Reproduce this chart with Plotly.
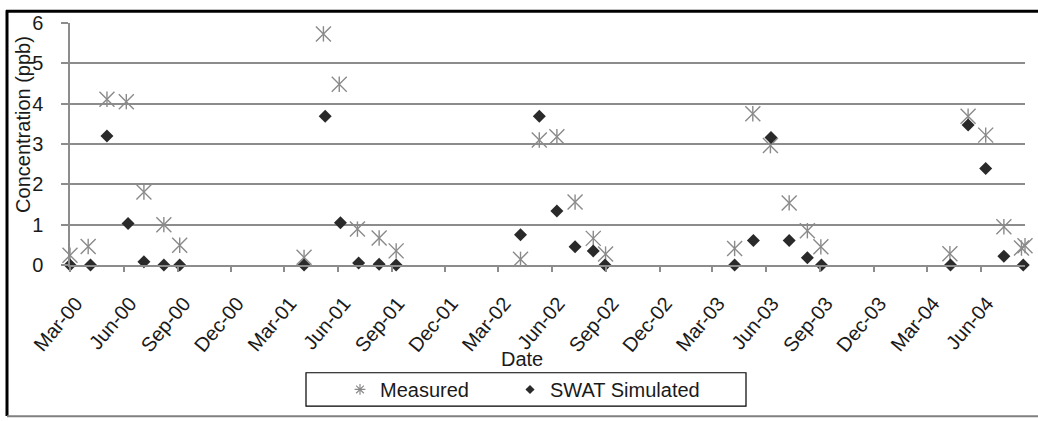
import plotly.graph_objects as go

# ---- data ----
measured_dates = [
    "2000-03-01", "2000-04-01", "2000-05-03", "2000-06-05", "2000-07-05", "2000-08-08", "2000-09-04",
    "2001-04-04", "2001-05-07", "2001-06-03", "2001-07-04", "2001-08-10", "2001-09-08",
    "2002-04-08", "2002-05-10", "2002-06-09", "2002-07-10", "2002-08-10", "2002-08-31",
    "2003-04-08", "2003-05-09", "2003-06-08", "2003-07-10", "2003-08-10", "2003-09-02",
    "2004-04-09", "2004-05-10", "2004-06-09", "2004-07-10", "2004-08-09", "2004-08-15",
]
measured_values = [
    0.24, 0.46, 4.11, 4.05, 1.81, 1.00, 0.49,
    0.19, 5.73, 4.48, 0.89, 0.67, 0.35,
    0.14, 3.10, 3.18, 1.56, 0.66, 0.27,
    0.41, 3.75, 2.96, 1.54, 0.85, 0.45,
    0.28, 3.69, 3.22, 0.95, 0.42, 0.48,
]
swat_dates = [
    "2000-03-01", "2000-04-05", "2000-05-03", "2000-06-08", "2000-07-05", "2000-08-08", "2000-09-04",
    "2001-04-04", "2001-05-10", "2001-06-05", "2001-07-06", "2001-08-10", "2001-09-08",
    "2002-04-08", "2002-05-10", "2002-06-09", "2002-07-10", "2002-08-10", "2002-08-30",
    "2003-04-08", "2003-05-10", "2003-06-09", "2003-07-10", "2003-08-10", "2003-09-03",
    "2004-04-10", "2004-05-10", "2004-06-09", "2004-07-10", "2004-08-12",
]
swat_values = [
    0.00, 0.00, 3.20, 1.03, 0.08, 0.00, 0.00,
    0.00, 3.69, 1.05, 0.05, 0.02, 0.00,
    0.75, 3.69, 1.34, 0.45, 0.35, 0.00,
    0.00, 0.61, 3.16, 0.61, 0.18, 0.00,
    0.00, 3.47, 2.39, 0.22, 0.00,
]
x_range = ["2000-03-01", "2004-08-15"]
y_ticks = [0, 1, 2, 3, 4, 5, 6]

# ---- layout geometry (pixels) ----
W, H = 1038, 421
L, R, T, B = 70, 13, 18, 156
PW, PH = W - L - R, H - T - B


def px(xp):
    return (xp - L) / PW


def py(yp):
    return (H - B - yp) / PH


FONT = "Liberation Sans, Arial, sans-serif"
TXT = "#1a1a1a"
GRID = "#8c8c8c"
MEAS = "#8a8a8a"
SIM = "#2a2a2a"

fig = go.Figure()

# Measured: X plus vertical bar (Excel star marker)
fig.add_trace(go.Scatter(
    x=measured_dates, y=measured_values, mode="markers", name="Measured",
    marker=dict(symbol="x-thin-open", size=15, color=MEAS, line=dict(color=MEAS, width=1.4)),
    showlegend=False, cliponaxis=False,
))
fig.add_trace(go.Scatter(
    x=measured_dates, y=measured_values, mode="markers", name="Measured",
    marker=dict(symbol="line-ns-open", size=11, color=MEAS, line=dict(color=MEAS, width=1.4)),
    showlegend=False, cliponaxis=False,
))
fig.add_trace(go.Scatter(
    x=swat_dates, y=swat_values, mode="markers", name="SWAT Simulated",
    marker=dict(symbol="diamond", size=10, color=SIM, line=dict(width=0)),
    showlegend=False, cliponaxis=False,
))
# legend entries
fig.add_trace(go.Scatter(
    x=[None], y=[None], mode="markers", name="Measured", legendwidth=125,
    marker=dict(symbol="asterisk-open", size=9, color=MEAS, line=dict(color=MEAS, width=1.2)),
))
fig.add_trace(go.Scatter(
    x=[None], y=[None], mode="markers", name="SWAT Simulated", legendwidth=175,
    marker=dict(symbol="diamond", size=7, color=SIM),
))

fig.update_layout(
    width=W, height=H,
    margin=dict(l=L, r=R, t=T, b=B, pad=0),
    paper_bgcolor="white", plot_bgcolor="white",
    font=dict(family=FONT, size=20, color=TXT),
    showlegend=True,
    legend=dict(
        orientation="h", x=px(340), xanchor="left", y=py(392), yanchor="middle",
        bgcolor="rgba(0,0,0,0)", borderwidth=0,
        font=dict(family=FONT, size=20, color=TXT),
    ),
    xaxis=dict(
        type="date", range=x_range, tick0="2000-03-01", dtick="M3", tickformat="%b-%y",
        tickangle=-50, ticks="outside", ticklen=5, tickwidth=1.5, tickcolor=GRID,
        showgrid=False, showline=True, linecolor=GRID, linewidth=1.5,
        zeroline=False, ticklabelstandoff=12, ticklabelshift=6,
        tickfont=dict(family=FONT, size=20, color=TXT),
    ),
    yaxis=dict(
        range=[0, 6], tickvals=y_ticks, ticks="outside", ticklen=7, tickwidth=1.5, tickcolor=GRID,
        showgrid=True, gridcolor=GRID, gridwidth=1.5, showline=True, linecolor=GRID, linewidth=1.5,
        zeroline=False, ticklabelstandoff=14,
        tickfont=dict(family=FONT, size=20, color=TXT),
    ),
    annotations=[
        dict(text="Date", xref="paper", yref="paper", x=px(522), y=py(361),
             xanchor="center", yanchor="middle", showarrow=False,
             font=dict(family=FONT, size=20, color=TXT)),
        dict(text="Concentration (ppb)", xref="paper", yref="paper", x=px(23), y=py(122),
             xanchor="center", yanchor="middle", textangle=-90, showarrow=False,
             font=dict(family=FONT, size=20, color=TXT)),
    ],
    shapes=[
        # legend box
        dict(type="rect", xref="paper", yref="paper", x0=px(306), x1=px(746), y0=py(375), y1=py(409),
             line=dict(color="#000000", width=1.2), fillcolor="rgba(0,0,0,0)", layer="below"),
        # outer chart border
        dict(type="line", xref="paper", yref="paper", x0=px(6), x1=px(1038), y0=py(6), y1=py(6),
             line=dict(color="#000000", width=3)),
        dict(type="line", xref="paper", yref="paper", x0=px(7), x1=px(7), y0=py(5), y1=py(419),
             line=dict(color="#000000", width=3)),
        dict(type="line", xref="paper", yref="paper", x0=px(7), x1=px(1038), y0=py(419.5), y1=py(419.5),
             line=dict(color="#808080", width=2)),
    ],
)

fig.write_html(
    "out.html",
    config={"displayModeBar": False},
    post_script="document.body.style.margin='0';document.body.style.overflow='hidden';",
)
